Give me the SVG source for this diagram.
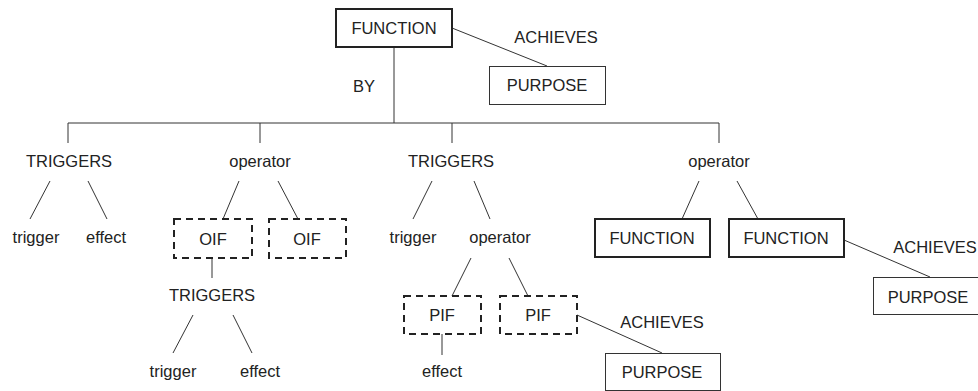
<svg xmlns="http://www.w3.org/2000/svg" width="978" height="391" viewBox="0 0 978 391">
<style>
text{font-family:"Liberation Sans",Arial,sans-serif;font-size:16.5px;fill:#222;text-anchor:middle}
.thick{fill:#fff;stroke:#222;stroke-width:2}
.thin{fill:#fff;stroke:#333;stroke-width:1}
.dash{fill:#fff;stroke:#222;stroke-width:2;stroke-dasharray:7,5}
#connectors line,#connectors polyline{stroke:#333;stroke-width:1;fill:none}
</style>
<rect width="978" height="391" fill="#fff"/>
<g id="connectors">
<line x1="394" y1="47" x2="394" y2="123"/>
<line x1="68" y1="123" x2="719" y2="123"/>
<line x1="68" y1="123" x2="68" y2="143"/>
<line x1="260" y1="123" x2="260" y2="143"/>
<line x1="452" y1="123" x2="452" y2="143"/>
<line x1="719" y1="123" x2="719" y2="143"/>
<line x1="452" y1="28" x2="547" y2="66"/>
<line x1="50" y1="181" x2="30" y2="219"/>
<line x1="88" y1="181" x2="107" y2="219"/>
<line x1="239" y1="181" x2="223" y2="219"/>
<line x1="278" y1="181" x2="298" y2="219"/>
<line x1="212" y1="258" x2="212" y2="278"/>
<line x1="193" y1="315" x2="173" y2="353"/>
<line x1="233" y1="315" x2="252" y2="353"/>
<line x1="432" y1="181" x2="413" y2="219"/>
<line x1="474" y1="181" x2="490" y2="219"/>
<line x1="471" y1="258" x2="452" y2="296"/>
<line x1="509" y1="258" x2="528" y2="296"/>
<line x1="442" y1="334" x2="442" y2="355"/>
<line x1="577" y1="315" x2="662" y2="353"/>
<line x1="699" y1="181" x2="682" y2="219"/>
<line x1="737" y1="181" x2="758" y2="219"/>
<line x1="844" y1="240" x2="930" y2="277"/>
</g>
<g id="function-top"><rect class="thick" x="336" y="9" width="116" height="38"/><text x="394" y="34">FUNCTION</text></g>
<g id="achieves-top"><text x="556" y="43">ACHIEVES</text></g>
<g id="purpose-top"><rect class="thin" x="489.5" y="66.5" width="116" height="38"/><text x="547" y="91">PURPOSE</text></g>
<g id="by"><text x="364" y="92">BY</text></g>
<g id="triggers-1"><text x="69" y="167">TRIGGERS</text></g>
<g id="trigger-1"><text x="36" y="243">trigger</text></g>
<g id="effect-1"><text x="106" y="243">effect</text></g>
<g id="operator-1"><text x="260" y="167">operator</text></g>
<g id="oif-1"><rect class="dash" x="174" y="219" width="78" height="39"/><text x="213" y="245">OIF</text></g>
<g id="oif-2"><rect class="dash" x="269" y="219" width="77" height="39"/><text x="307" y="245">OIF</text></g>
<g id="triggers-2"><text x="212" y="301">TRIGGERS</text></g>
<g id="trigger-2"><text x="173" y="377">trigger</text></g>
<g id="effect-2"><text x="260" y="377">effect</text></g>
<g id="triggers-3"><text x="451" y="167">TRIGGERS</text></g>
<g id="trigger-3"><text x="413" y="243">trigger</text></g>
<g id="operator-2"><text x="500" y="243">operator</text></g>
<g id="pif-1"><rect class="dash" x="404" y="296" width="77" height="38"/><text x="442" y="321">PIF</text></g>
<g id="pif-2"><rect class="dash" x="500" y="296" width="77" height="38"/><text x="538" y="321">PIF</text></g>
<g id="effect-3"><text x="442" y="377">effect</text></g>
<g id="achieves-2"><text x="662" y="328">ACHIEVES</text></g>
<g id="purpose-2"><rect class="thin" x="605.5" y="353.5" width="115" height="37"/><text x="662" y="378">PURPOSE</text></g>
<g id="operator-3"><text x="719" y="167">operator</text></g>
<g id="function-2"><rect class="thick" x="595" y="219" width="115" height="38"/><text x="652" y="244">FUNCTION</text></g>
<g id="function-3"><rect class="thick" x="729" y="219" width="115" height="38"/><text x="786" y="244">FUNCTION</text></g>
<g id="achieves-3"><text x="935" y="253">ACHIEVES</text></g>
<g id="purpose-3"><rect class="thin" x="873.5" y="277.5" width="116" height="37"/><text x="928" y="303">PURPOSE</text></g>
</svg>
